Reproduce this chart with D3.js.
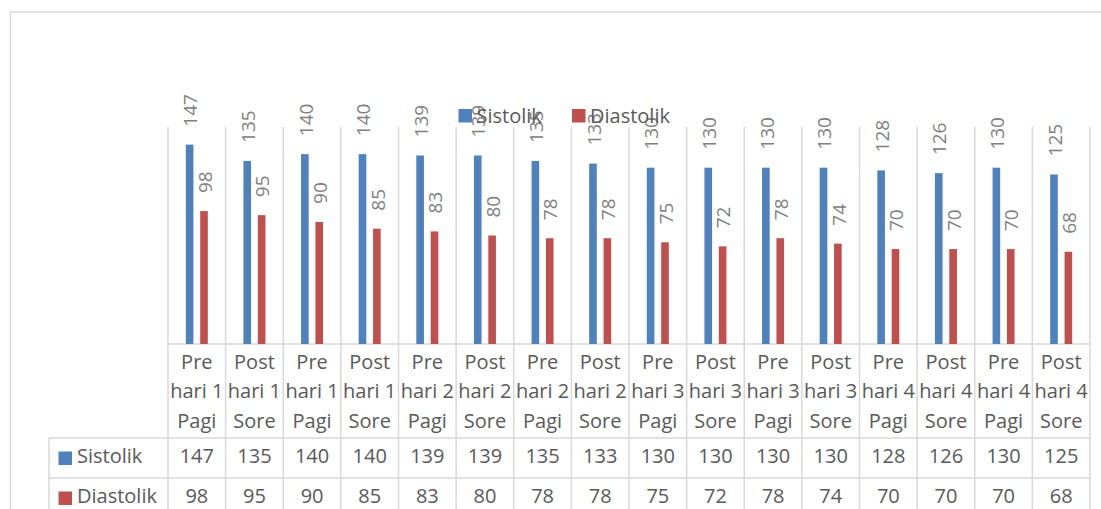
<!DOCTYPE html>
<html>
<head>
<meta charset="utf-8">
<script src="https://cdn.jsdelivr.net/npm/d3@7"></script>
<style>
  body{margin:0;background:#fff}
  svg{display:block}
  text{font-family:"Open Sans",sans-serif}
</style>
</head>
<body>
<svg id="chart" width="1101" height="509"></svg>
<script>
'use strict'

const categories = [
  "Pre\nhari 1\nPagi","Post\nhari 1\nSore","Pre\nhari 1\nPagi","Post\nhari 1\nSore",
  "Pre\nhari 2\nPagi","Post\nhari 2\nSore","Pre\nhari 2\nPagi","Post\nhari 2\nSore",
  "Pre\nhari 3\nPagi","Post\nhari 3\nSore","Pre\nhari 3\nPagi","Post\nhari 3\nSore",
  "Pre\nhari 4\nPagi","Post\nhari 4\nSore","Pre\nhari 4\nPagi","Post\nhari 4\nSore"
]
const seriesNames = ["Sistolik","Diastolik"]
const sistolik  = [147,135,140,140,139,139,135,133,130,130,130,130,128,126,130,125]
const diastolik = [98,95,90,85,83,80,78,78,75,72,78,74,70,70,70,68]
const seriesColors = ["#4f81bd","#c0504d"]
const yMax = 160

const series = [sistolik,diastolik]
const gridColor = "#d9d9d9"

const svg = d3.select("#chart")

// outer chart frame
svg.append("rect")
  .attr("x",10.5).attr("y",12).attr("width",1120).attr("height",520)
  .attr("fill","none").attr("stroke",gridColor).attr("stroke-width",1.5)

const plotTop = 127, plotBottom = 344
const tableLeft = 49, rowH = 40
const rowTops = [438, 478]
const tableBottom = rowTops[1] + rowH

const x = d3.scaleBand().domain(d3.range(categories.length)).range([168,1090])
const bw = x.bandwidth()
const x1 = d3.scaleBand().domain(seriesNames)
  .range([bw/2 - 11, bw/2 + 11]).paddingInner(0.47)
const y = d3.scaleLinear().domain([0,yMax]).range([plotBottom,plotTop])

// grid / data table lines
const grid = svg.append("g").attr("stroke",gridColor).attr("stroke-width",1.5)
d3.range(categories.length + 1).forEach(i=>{
  const gx = i < categories.length ? x(i) : x.range()[1]
  grid.append("line").attr("x1",gx).attr("x2",gx).attr("y1",plotTop).attr("y2",tableBottom)
})
grid.append("line").attr("x1",x.range()[0]).attr("x2",x.range()[1]).attr("y1",plotBottom).attr("y2",plotBottom)
rowTops.concat([tableBottom]).forEach(ry=>{
  grid.append("line").attr("x1",tableLeft).attr("x2",x.range()[1]).attr("y1",ry).attr("y2",ry)
})
grid.append("line").attr("x1",tableLeft).attr("x2",tableLeft).attr("y1",rowTops[0]).attr("y2",tableBottom)

// bars
seriesNames.forEach((name,s)=>{
  const g = svg.append("g")
  g.selectAll("rect").data(series[s]).join("rect")
    .attr("x",(d,i)=>x(i)+x1(name))
    .attr("width",x1.bandwidth())
    .attr("y",d=>y(d))
    .attr("height",d=>y(0)-y(d))
    .attr("fill",seriesColors[s])

  g.selectAll("text").data(series[s]).join("text")
    .attr("transform",(d,i)=>`translate(${x(i)+x1(name)+x1.bandwidth()/2+1},${y(d)-18}) rotate(-90)`)
    .attr("dy","0.35em")
    .attr("font-size",19)
    .attr("fill","#808080")
    .text(d=>d)
})

// category labels in data table header
const catG = svg.append("g").attr("fill","#595959").attr("font-size",20).attr("text-anchor","middle")
categories.forEach((c,i)=>{
  const t = catG.append("text").attr("x",x(i)+bw/2).attr("y",369)
  c.split("\n").forEach((line,k)=>{
    t.append("tspan").attr("x",x(i)+bw/2).attr("y",369 + k*29.3).text(line)
  })
})

// data table rows
seriesNames.forEach((name,s)=>{
  const ry = rowTops[s]
  svg.append("rect").attr("x",58.5).attr("y",ry+13.5).attr("width",13.5).attr("height",13.5)
    .attr("fill",seriesColors[s])
  svg.append("text").attr("x",77).attr("y",ry+rowH/2+5)
    .attr("font-size",20).attr("fill","#595959").text(name)
  svg.append("g").attr("fill","#595959").attr("font-size",20).attr("text-anchor","middle")
    .selectAll("text").data(series[s]).join("text")
    .attr("x",(d,i)=>x(i)+bw/2)
    .attr("y",ry+rowH/2+5)
    .text(d=>d)
})

// legend
const legendX = [458.5, 572]
seriesNames.forEach((name,s)=>{
  const lg = svg.append("g").attr("transform",`translate(${legendX[s]},109)`)
  lg.append("rect").attr("width",13.5).attr("height",13.5).attr("fill",seriesColors[s])
  lg.append("text").attr("x",18).attr("y",13.5).attr("font-size",20)
    .attr("fill","#595959").text(name)
})
</script>
</body>
</html>
